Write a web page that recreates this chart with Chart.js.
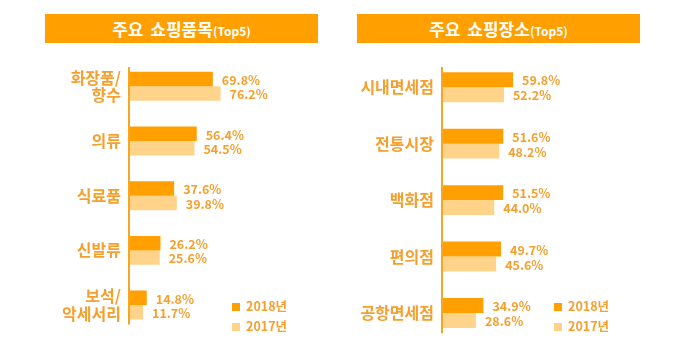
<!DOCTYPE html>
<html>
<head>
<meta charset="utf-8">
<script src="https://cdn.jsdelivr.net/npm/chart.js@4"></script>
<style>
  body { margin: 0; background: #fff; width: 677px; height: 358px; position: relative; overflow: hidden;
         font-family: "Noto Sans CJK KR", "Noto Sans", sans-serif; }
  .head { position: absolute; top: 14px; height: 29px; background: #ff9f00; color: #fff;
          font-weight: bold; font-size: 17px; line-height: 29px; text-align: center; word-spacing: 3px; }
  .head small { font-size: 12px; word-spacing: 0; }
  canvas { position: absolute; top: 0; }
  .legend { position: absolute; color: #f5a02e; font-weight: bold; font-size: 12.5px; line-height: 20px; }
  .legend span { display: inline-block; width: 8px; height: 8px; margin-right: 6px; vertical-align: 0; }
</style>
</head>
<body>
<div class="head" style="left:45px; width:273px;">주요 쇼핑품목<small>(Top5)</small></div>
<div class="head" style="left:357px; width:283px;">주요 쇼핑장소<small>(Top5)</small></div>
<canvas id="left" width="338" height="358" style="left:0px"></canvas>
<canvas id="right" width="338" height="358" style="left:313px"></canvas>
<div class="legend" style="left:232px; top:296px;"><span style="background:#ff9f00"></span>2018년<br><span style="background:#ffd38a"></span>2017년</div>
<div class="legend" style="left:554px; top:296px;"><span style="background:#ff9f00"></span>2018년<br><span style="background:#ffd38a"></span>2017년</div>
<script>
const itemLabels = [['화장품/', '향수'], '의류', '식료품', '신발류', ['보석/', '악세서리']];
const item2018 = [69.8, 56.4, 37.6, 26.2, 14.8];
const item2017 = [76.2, 54.5, 39.8, 25.6, 11.7];

const placeLabels = ['시내면세점', '전통시장', '백화점', '편의점', '공항면세점'];
const place2018 = [59.8, 51.6, 51.5, 49.7, 34.9];
const place2017 = [52.2, 48.2, 44.0, 45.6, 28.6];

const seriesNames = ['2018년', '2017년'];
const textColor = '#f5a02e';

const valueLabels = {
  id: 'valueLabels',
  afterDatasetsDraw(chart) {
    const ctx = chart.ctx;
    ctx.save();
    ctx.font = 'bold 12.5px "Noto Sans CJK KR", sans-serif';
    ctx.fillStyle = textColor;
    ctx.textBaseline = 'middle';
    chart.data.datasets.forEach((ds, i) => {
      chart.getDatasetMeta(i).data.forEach((bar, j) => {
        ctx.fillText(ds.data[j].toFixed(1) + '%', bar.x + 9, bar.y + 1);
      });
    });
    ctx.restore();
  }
};

const axisLine = {
  id: 'axisLine',
  afterDraw(chart) {
    const a = chart.chartArea, ctx = chart.ctx;
    ctx.save();
    ctx.strokeStyle = '#f5a623';
    ctx.lineWidth = 2;
    ctx.beginPath();
    ctx.moveTo(a.left, a.top + 8);
    ctx.lineTo(a.left, a.bottom - 8);
    ctx.stroke();
    ctx.restore();
  }
};

function makeChart(id, labels, d2018, d2017, xMax) {
  return new Chart(document.getElementById(id), {
    type: 'bar',
    data: {
      labels: labels,
      datasets: [
        { label: seriesNames[0], data: d2018, backgroundColor: '#ff9f00' },
        { label: seriesNames[1], data: d2017, backgroundColor: '#ffd38a' }
      ]
    },
    options: {
      indexAxis: 'y',
      responsive: false,
      animation: false,
      layout: { padding: { top: 59, bottom: 16, right: 0 } },
      datasets: { bar: { categoryPercentage: 0.53, barPercentage: 1 } },
      plugins: { legend: { display: false }, tooltip: { enabled: false } },
      scales: {
        x: { display: false, min: 0, max: xMax },
        y: {
          afterFit(scale) { scale.width = 129; },
          grid: { display: false, drawTicks: false },
          border: { display: false },
          ticks: {
            padding: 8,
            color: textColor,
            font: { family: '"Noto Sans CJK KR", sans-serif', size: 16, weight: 'bold', lineHeight: 1.1 }
          }
        }
      }
    },
    plugins: [valueLabels, axisLine]
  });
}

makeChart('left', itemLabels, item2018, item2017, 174);
makeChart('right', placeLabels, place2018, place2017, 176);
</script>
</body>
</html>
